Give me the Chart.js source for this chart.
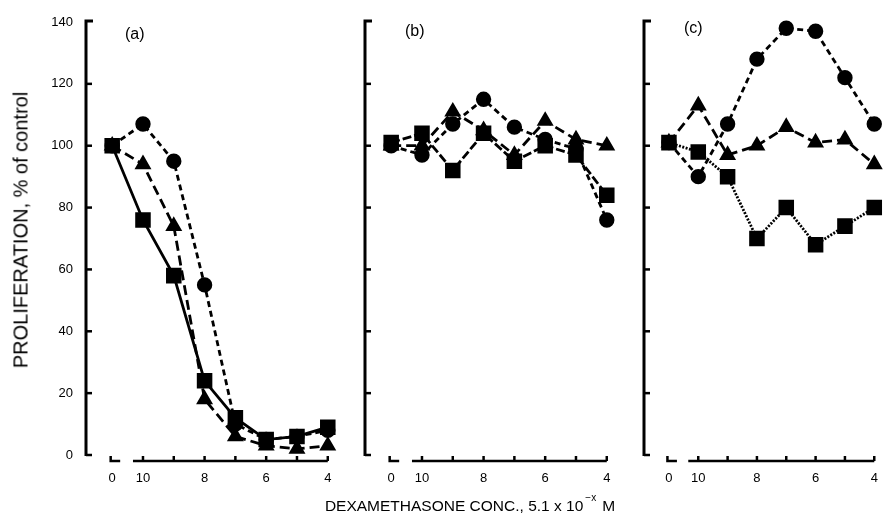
<!DOCTYPE html>
<html>
<head>
<meta charset="utf-8">
<script src="https://cdn.jsdelivr.net/npm/chart.js@4/dist/chart.umd.min.js"></script>
<style>
  html, body { margin: 0; padding: 0; background: #fff; }
  #wrap { position: relative; width: 889px; height: 525px; overflow: hidden; font-family: "Liberation Sans", Arial, sans-serif; color: #000; }
  canvas { position: absolute; left: 0; top: 0; }
  .ytitle { position: absolute; left: 21px; top: 230px; transform: translate(-50%, -50%) rotate(-90deg); white-space: nowrap; font-size: 20px; }
  .xtitle { position: absolute; left: 470px; top: 505px; transform: translate(-50%, -50%); white-space: nowrap; font-size: 15.5px; }
  .xtitle sup { font-size: 10px; position: relative; top: -3px; margin-left: 2px; margin-right: 6px; }
  .plab { position: absolute; font-size: 16px; }
</style>
</head>
<body>
<div id="wrap">
  <canvas id="ca" width="889" height="525"></canvas>
  <canvas id="cb" width="889" height="525"></canvas>
  <canvas id="cc" width="889" height="525"></canvas>
  <div class="ytitle">PROLIFERATION, % of control</div>
  <div class="xtitle">DEXAMETHASONE CONC., 5.1 x 10<sup>&minus;x</sup>M</div>
  <div class="plab" style="left:125px; top:25px;">(a)</div>
  <div class="plab" style="left:405px; top:22px;">(b)</div>
  <div class="plab" style="left:684px; top:19px;">(c)</div>
</div>
<script>
// x positions: index 0 = control (0), 1..7 = 10,9,8,7,6,5,4
const xCategories = ["0", "10", "9", "8", "7", "6", "5", "4"];
const xTickLabels = ["0", "10", "", "8", "", "6", "", "4"];
const yTickValues = [0, 20, 40, 60, 80, 100, 120, 140];

// Panel (a)
const aCircle   = [100, 107, 95, 55, 10, 5, 6, 8];
const aTriangle = [100, 94, 74, 18, 6, 3, 2, 3];
const aSquare   = [100, 76, 58, 24, 12, 5, 6, 9];
// Panel (b)
const bCircle   = [100, 97, 107, 115, 106, 102, 99, 76];
const bTriangle = [100, 100, 111, 105, 97, 108, 102, 100];
const bSquare   = [101, 104, 92, 104, 95, 100, 97, 84];
// Panel (c)
const cCircle   = [101, 90, 107, 128, 138, 137, 122, 107];
const cTriangle = [101, 113, 97, 100, 106, 101, 102, 94];
const cSquare   = [101, 98, 90, 70, 80, 68, 74, 80];

const panels = [
  { id: "ca", left: 86,  xMax: 7.3, labels: true,  circle: aCircle, triangle: aTriangle, square: aSquare },
  { id: "cb", left: 365, xMax: 7.3, labels: false, circle: bCircle, triangle: bTriangle, square: bSquare },
  { id: "cc", left: 644, xMax: 7.1, labels: false, circle: cCircle, triangle: cTriangle, square: cSquare }
];

const X_MIN = -0.85;
const PX_PER_X = 30.8;
const TOP = 22, BOTTOM = 455;
const FONT = '13px "Liberation Sans", Arial, sans-serif';

function pts(arr) { return arr.map((v, i) => ({ x: i, y: v })); }

const axesPlugin = {
  id: "paperAxes",
  afterDraw(chart, args, opts) {
    const ctx = chart.ctx;
    const xs = chart.scales.x, ys = chart.scales.y;
    const left = chart.chartArea.left;
    const y0 = ys.getPixelForValue(0);
    const yTop = ys.getPixelForValue(140);
    ctx.save();
    ctx.strokeStyle = "#000";
    ctx.fillStyle = "#000";
    ctx.lineCap = "butt";
    // y axis
    ctx.lineWidth = 3;
    ctx.beginPath();
    ctx.moveTo(left, y0 + 1);
    ctx.lineTo(left, yTop - 1);
    ctx.lineTo(left + 7, yTop - 1);
    ctx.stroke();
    ctx.lineWidth = 2.5;
    yTickValues.forEach(v => {
      if (v === 140) return;
      const py = ys.getPixelForValue(v);
      ctx.beginPath();
      ctx.moveTo(left, py);
      ctx.lineTo(left + 6, py);
      ctx.stroke();
    });
    if (opts.labels) {
      ctx.font = FONT;
      ctx.textAlign = "right";
      ctx.textBaseline = "middle";
      yTickValues.forEach(v => {
        ctx.fillText(String(v), left - 13, ys.getPixelForValue(v));
      });
    }
    // x axis (broken)
    const ax = y0 + 6;
    const x0 = xs.getPixelForValue(0);
    ctx.lineWidth = 2.5;
    ctx.beginPath();
    ctx.moveTo(x0 - 1.5, ax - 5);
    ctx.lineTo(x0 - 1.5, ax);
    ctx.lineTo(x0 + 8, ax);
    ctx.stroke();
    const x1 = xs.getPixelForValue(1);
    const x7 = xs.getPixelForValue(7);
    ctx.beginPath();
    ctx.moveTo(x1 - 10, ax);
    ctx.lineTo(x7, ax);
    ctx.stroke();
    for (let i = 1; i <= 7; i++) {
      const px = xs.getPixelForValue(i);
      ctx.beginPath();
      ctx.moveTo(px, ax);
      ctx.lineTo(px, ax - 5);
      ctx.stroke();
    }
    ctx.font = FONT;
    ctx.textAlign = "center";
    ctx.textBaseline = "middle";
    xTickLabels.forEach((lab, i) => {
      if (lab) ctx.fillText(lab, xs.getPixelForValue(i), 478);
    });
    ctx.restore();
  }
};

panels.forEach(p => {
  const width = (p.xMax - X_MIN) * PX_PER_X;
  const right = 889 - (p.left + width);
  new Chart(document.getElementById(p.id), {
    type: "line",
    data: {
      datasets: [
        { label: "circle", data: pts(p.circle), borderColor: "#000", backgroundColor: "#000",
          borderWidth: 2.8, borderDash: [6, 4], pointStyle: "circle", pointRadius: 6.3, clip: false },
        { label: "triangle", data: pts(p.triangle), borderColor: "#000", backgroundColor: "#000",
          borderWidth: 2.8, borderDash: [10, 5], pointStyle: "triangle", pointRadius: 7, clip: false },
        { label: "square", data: pts(p.square), borderColor: "#000", backgroundColor: "#000",
          borderWidth: 2.8, borderDash: p.id === "cc" ? [2, 1.5] : (p.id === "cb" ? [9, 3] : []),
          pointStyle: "rect", pointRadius: 9, clip: false }
      ]
    },
    options: {
      responsive: false,
      animation: false,
      events: [],
      layout: { padding: { left: p.left, right: Math.max(0, right), top: TOP, bottom: 525 - BOTTOM } },
      plugins: { legend: { display: false }, tooltip: { enabled: false }, paperAxes: { labels: p.labels } },
      scales: {
        x: { type: "linear", min: X_MIN, max: p.xMax, display: false },
        y: { type: "linear", min: 0, max: 140, display: false }
      }
    },
    plugins: [axesPlugin]
  });
});
</script>
</body>
</html>
